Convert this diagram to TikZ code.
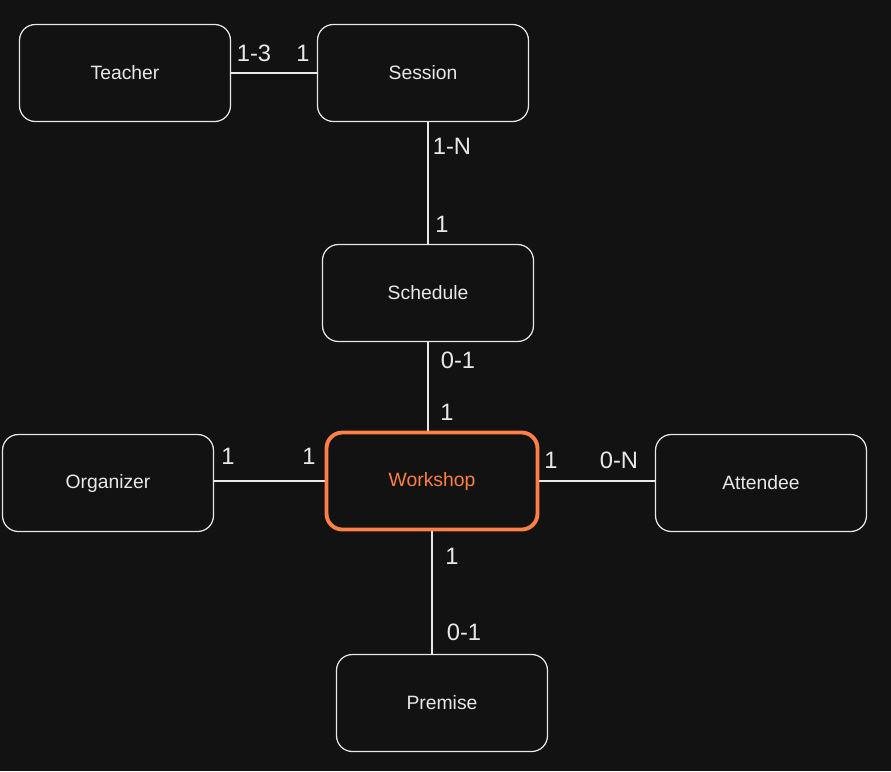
\documentclass[tikz,border=0pt]{standalone}
\usepackage{fontspec}
\setmainfont{Liberation Sans}
\usetikzlibrary{positioning}
\definecolor{canvas}{HTML}{121212}
\definecolor{hilite}{HTML}{FF8045}
\definecolor{ink}{HTML}{E8E8E8}

\begin{document}
\begin{tikzpicture}[
      x=0.02cm, y=-0.02cm,
      entity/.style={draw=ink, line width=0.7pt, rounded corners=9pt, minimum width=4.22cm, minimum height=1.94cm, text=ink, font=\fontsize{11}{13}\selectfont},
      focus/.style={entity, draw=hilite, line width=2.2pt, text=hilite},
      card/.style={text=ink, inner sep=0pt, font=\fontsize{13.5}{15}\selectfont},
      link/.style={draw=ink, line width=0.7pt}
    ]
    \fill[canvas] (0,0) rectangle (891,771);
    \useasboundingbox (0,0) rectangle (891,771);

    \node[entity] (teacher) at (125,73) {Teacher};
    \node[entity] (session) at (423,73) {Session};
    \node[entity] (schedule) at (428,293) {Schedule};
    \node[focus] (workshop) at (432,481) {Workshop};
    \node[entity] (organizer) at (108,483) {Organizer};
    \node[entity] (attendee) at (761,483) {Attendee};
    \node[entity] (premise) at (442,703) {Premise};

    \draw[link] (teacher.east) -- (session.west);
    \draw[link] (session.south -| schedule.north) -- (schedule.north);
    \draw[link] (schedule.south) -- (schedule.south |- workshop.north);
    \draw[link] (organizer.east |- workshop.west) -- (workshop.west);
    \draw[link] (workshop.east) -- (workshop.east -| attendee.west);
    \draw[link] (workshop.south) -- (workshop.south |- premise.north);

    % cardinalities
    \node[card] (c1) at (254,53) {1-3};
    \node[card] (c2) at (303,53) {1};
    \node[card] (c3) at (452,146) {1-N};
    \node[card] (c4) at (442,224) {1};
    \node[card] (c5) at (458,360) {0-1};
    \node[card] (c6) at (447,412) {1};
    \node[card] (c7) at (228,456) {1};
    \node[card] (c8) at (309,456) {1};
    \node[card] (c9) at (551,460) {1};
    \node[card] (c10) at (619,460) {0-N};
    \node[card] (c11) at (452,556) {1};
    \node[card] (c12) at (464,632) {0-1};
  \end{tikzpicture}
\end{document}
